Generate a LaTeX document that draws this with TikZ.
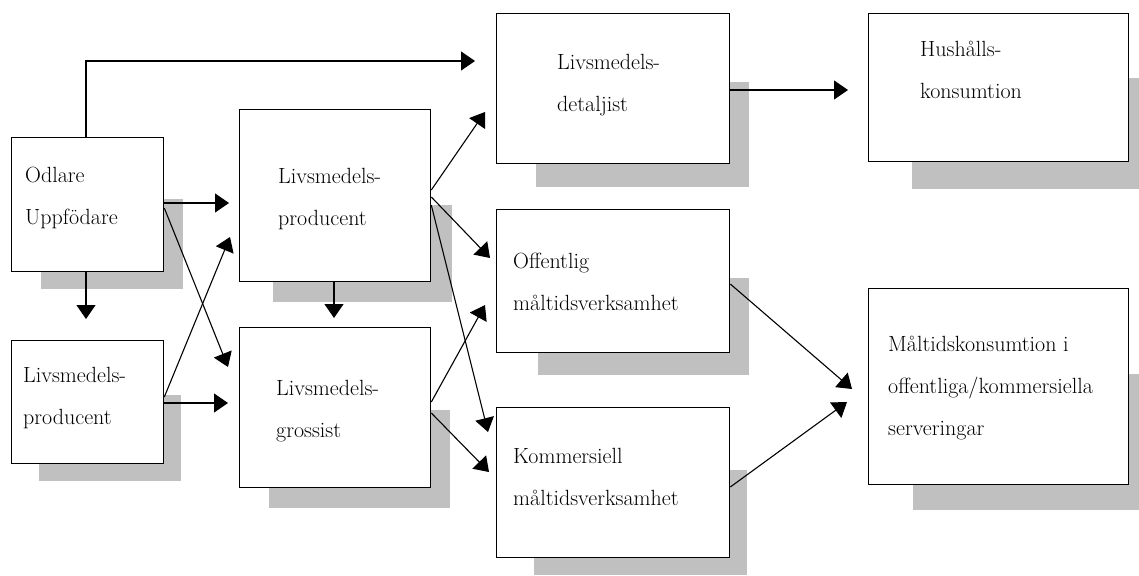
\documentclass[tikz,border=0pt]{standalone}
\usepackage{xcolor}
\usepackage{tikz}
\usetikzlibrary{positioning,arrows.meta}
\definecolor{shadowgray}{HTML}{c0c0c0}
\tikzset{
  flowbox/.style={rectangle, draw=black, fill=white, line width=1.3pt,
                  inner sep=0pt, anchor=north west},
  boxtext/.style={anchor=base west, align=left, inner sep=0pt,
                  font=\fontsize{22}{42}\selectfont},
  flowarrow/.style={-{Triangle[length=14pt,width=19pt]}, line width=1.1pt},
  shadowfill/.style={fill=shadowgray}
}

\begin{document}
\begin{tikzpicture}[x=1pt, y=-1pt]
  \useasboundingbox (0,0) rectangle (1139,575);

  % --- shadows ---
  \fill[shadowfill] (41,199) rectangle (183,289);
  \fill[shadowfill] (39,395) rectangle (181,481);
  \fill[shadowfill] (273,205) rectangle (452,302);
  \fill[shadowfill] (269,410) rectangle (450,508);
  \fill[shadowfill] (536,82) rectangle (749,187);
  \fill[shadowfill] (538,278) rectangle (749,375);
  \fill[shadowfill] (534,470) rectangle (747,575);
  \fill[shadowfill] (912,78) rectangle (1139,189);
  \fill[shadowfill] (913,374) rectangle (1139,510);

  % --- left column ---
  \node[flowbox, minimum width=152pt, minimum height=134pt] (odlare) at (11,137) {};
  \node[boxtext] (odlare-txt) at (25,224) {Odlare\\Uppfödare};
  \node[flowbox, minimum width=152pt, minimum height=123pt] (prodL) at (11,340) {};
  \node[boxtext] (prodL-txt) at (23,424) {Livsmedels-\\producent};

  % --- middle column ---
  \node[flowbox, minimum width=191pt, minimum height=172pt] (prodM) at (239,109) {};
  \node[boxtext] (prodM-txt) at (278,225) {Livsmedels-\\producent};
  \node[flowbox, minimum width=191pt, minimum height=160pt] (gross) at (239,327) {};
  \node[boxtext] (gross-txt) at (276,437) {Livsmedels-\\grossist};

  % --- third column ---
  \node[flowbox, minimum width=233pt, minimum height=150pt] (detalj) at (496,13) {};
  \node[boxtext] (detalj-txt) at (557,112) {Livsmedels-\\detaljist};
  \node[flowbox, minimum width=233pt, minimum height=143pt] (offent) at (496,209) {};
  \node[boxtext] (offent-txt) at (513,310) {Offentlig\\måltidsverksamhet};
  \node[flowbox, minimum width=233pt, minimum height=150pt] (kommers) at (496,407) {};
  \node[boxtext] (kommers-txt) at (513,505) {Kommersiell\\måltidsverksamhet};

  % --- consumption ---
  \node[flowbox, minimum width=260pt, minimum height=148pt] (hush) at (868,13) {};
  \node[boxtext] (hush-txt) at (920,99) {Hushålls-\\konsumtion};
  \node[flowbox, minimum width=260pt, minimum height=196pt] (maltid) at (868,288) {};
  \node[boxtext] (maltid-txt) at (888,435) {Måltidskonsumtion i\\offentliga/kommersiella\\serveringar};

  % --- arrows ---
  \draw[flowarrow] ([xshift=75pt]odlare.north west) |- ([xshift=-21pt,yshift=-48pt]detalj.north west);
  \draw[flowarrow] ([yshift=-66pt]odlare.north east) -- ([xshift=-10pt,yshift=-94pt]prodM.north west);
  \draw[flowarrow] ([yshift=-71pt]odlare.north east) -- ([xshift=-11pt,yshift=-40pt]gross.north west);
  \draw[flowarrow] ([xshift=75pt]odlare.south west) -- ([xshift=75pt,yshift=21pt]prodL.north west);
  \draw[flowarrow] ([yshift=-57pt]prodL.north east) -- ([xshift=-9pt,yshift=-128pt]prodM.north west);
  \draw[flowarrow] ([yshift=-63pt]prodL.north east) -- ([xshift=-11pt,yshift=-76pt]gross.north west);
  \draw[flowarrow] ([xshift=95pt]prodM.south west) -- ([xshift=95pt,yshift=9pt]gross.north west);
  \draw[flowarrow] ([yshift=-81pt]prodM.north east) -- ([xshift=-11pt,yshift=-99pt]detalj.north west);
  \draw[flowarrow] ([yshift=-88pt]prodM.north east) -- ([xshift=-6pt,yshift=-49pt]offent.north west);
  \draw[flowarrow] ([yshift=-96pt]prodM.north east) -- ([xshift=-8pt,yshift=-25pt]kommers.north west);
  \draw[flowarrow] ([yshift=-75pt]gross.north east) -- ([xshift=-11pt,yshift=-96pt]offent.north west);
  \draw[flowarrow] ([yshift=-86pt]gross.north east) -- ([xshift=-7pt,yshift=-65pt]kommers.north west);
  \draw[flowarrow] ([yshift=-77pt]detalj.north east) -- ([xshift=-20pt,yshift=-77pt]hush.north west);
  \draw[flowarrow] ([yshift=-75pt]offent.north east) -- ([xshift=-16pt,yshift=-101pt]maltid.north west);
  \draw[flowarrow] ([yshift=-80pt]kommers.north east) -- ([xshift=-21pt,yshift=-114pt]maltid.north west);

\end{tikzpicture}
\end{document}
